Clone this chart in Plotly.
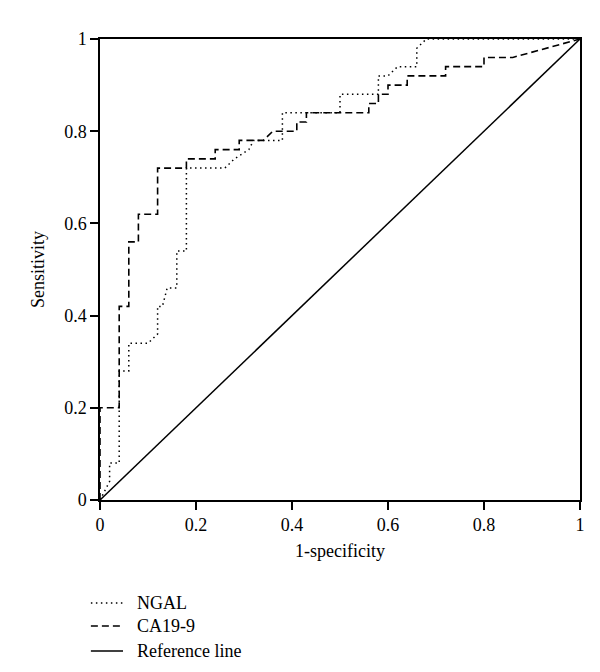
import plotly.graph_objects as go

# NGAL ROC curve (1-specificity, sensitivity)
ngal_fpr = [0, 0.02, 0.02, 0.04, 0.04, 0.06, 0.06, 0.10, 0.12, 0.12, 0.13, 0.14, 0.16, 0.16,
            0.18, 0.18, 0.26, 0.28, 0.31, 0.32, 0.38, 0.38, 0.50, 0.50, 0.58, 0.58, 0.60,
            0.62, 0.66, 0.66, 0.68, 1.0]
ngal_sens = [0, 0.04, 0.08, 0.08, 0.28, 0.28, 0.34, 0.34, 0.36, 0.42, 0.42, 0.46, 0.46, 0.54,
             0.54, 0.72, 0.72, 0.74, 0.76, 0.78, 0.78, 0.84, 0.84, 0.88, 0.88, 0.92, 0.92,
             0.94, 0.94, 0.98, 1.0, 1.0]

# CA19-9 ROC curve
ca_fpr = [0, 0, 0.04, 0.04, 0.06, 0.06, 0.08, 0.08, 0.12, 0.12, 0.18, 0.18, 0.24, 0.24,
          0.29, 0.29, 0.34, 0.36, 0.40, 0.41, 0.41, 0.43, 0.43, 0.56, 0.56, 0.58, 0.58,
          0.60, 0.60, 0.64, 0.64, 0.72, 0.72, 0.80, 0.80, 0.86, 1.0]
ca_sens = [0, 0.20, 0.20, 0.42, 0.42, 0.56, 0.56, 0.62, 0.62, 0.72, 0.72, 0.74, 0.74, 0.76,
           0.76, 0.78, 0.78, 0.80, 0.80, 0.80, 0.82, 0.82, 0.84, 0.84, 0.86, 0.86, 0.88,
           0.88, 0.90, 0.90, 0.92, 0.92, 0.94, 0.94, 0.96, 0.96, 1.0]

# Reference line
ref_x = [0, 1]
ref_y = [0, 1]

tick_vals = [0, 0.2, 0.4, 0.6, 0.8, 1]
tick_text = ["0", "0.2", "0.4", "0.6", "0.8", "1"]

series_names = ["NGAL", "CA19-9", "Reference line"]

FONT = "Liberation Serif, Times New Roman, serif"
DOT = "1.5px,3.5px"
DASH = "7px,4px"
styles = [dict(color="black", width=1.5, dash=DOT),
          dict(color="black", width=1.6, dash=DASH),
          dict(color="black", width=1.5, dash="solid")]

fig = go.Figure()
for (xs, ys), name, st in zip([(ngal_fpr, ngal_sens), (ca_fpr, ca_sens), (ref_x, ref_y)],
                              series_names, styles):
    fig.add_trace(go.Scatter(x=xs, y=ys, mode="lines", name=name, line=st,
                             showlegend=False))

axis_common = dict(
    range=[0, 1], tickvals=tick_vals, ticktext=tick_text,
    showgrid=False, zeroline=False, showline=True, linecolor="black", linewidth=1.5,
    mirror=True, ticks="outside", ticklen=8, tickwidth=1.5, tickcolor="black",
    tickfont=dict(family=FONT, size=18, color="black"),
)

# Legend (drawn below the plot, in paper coordinates)
legend_rows_y = [-0.2234, -0.2733, -0.3275]
shapes = []
annotations = [dict(text="Sensitivity", xref="paper", yref="paper",
                    x=-0.13, y=0.5, xanchor="center", yanchor="middle",
                    textangle=-90, showarrow=False,
                    font=dict(family=FONT, size=18, color="black"))]
for name, st, yy in zip(series_names, styles, legend_rows_y):
    shapes.append(dict(type="line", xref="paper", yref="paper",
                       x0=-0.019, x1=0.048, y0=yy, y1=yy, line=st))
    annotations.append(dict(text=name, xref="paper", yref="paper", x=0.073, y=yy,
                            xanchor="left", yanchor="middle", showarrow=False,
                            font=dict(family=FONT, size=18, color="black")))

fig.update_layout(
    width=600, height=672,
    margin=dict(l=92, r=28, t=31, b=180, autoexpand=False),
    paper_bgcolor="white", plot_bgcolor="white",
    font=dict(family=FONT, size=18, color="black"),
    xaxis=dict(**axis_common,
               title=dict(text="1-specificity", font=dict(family=FONT, size=18), standoff=10)),
    yaxis=dict(**axis_common),
    shapes=shapes,
    annotations=annotations,
    showlegend=False,
)

fig.write_html("out.html")
